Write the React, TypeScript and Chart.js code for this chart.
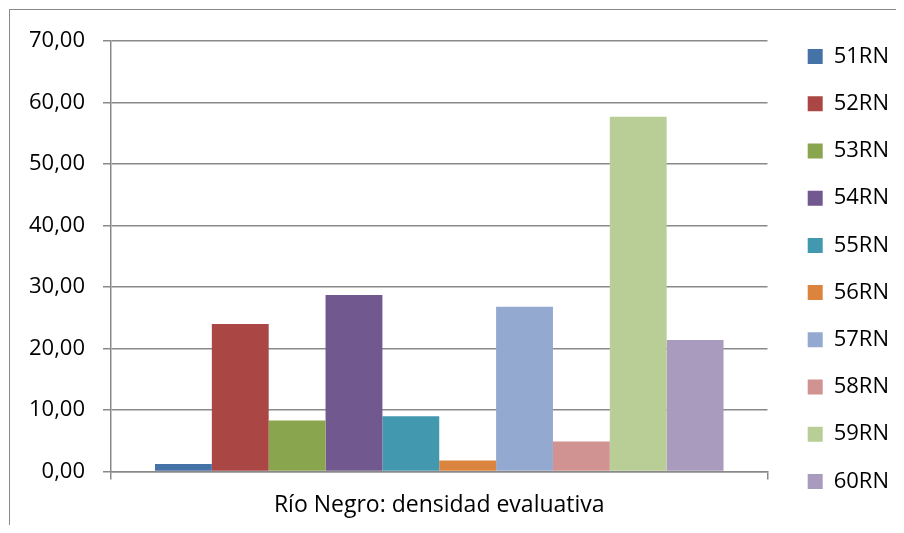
import React, { useEffect, useRef } from 'react';
import { Chart, registerables } from 'chart.js';

Chart.register(...registerables);

const categories = ['Río Negro: densidad evaluativa'];
const seriesNames = ['51RN', '52RN', '53RN', '54RN', '55RN', '56RN', '57RN', '58RN', '59RN', '60RN'];
const seriesValues = [1.2, 24.0, 8.3, 28.7, 9.0, 1.8, 26.8, 4.9, 57.7, 21.4];
const seriesColors = ['#4572A7', '#AA4643', '#89A54E', '#71588F', '#4198AF', '#DB843D', '#93A9CF', '#D19392', '#B9CD96', '#A99BBD'];
const yTickLabels = ['0,00', '10,00', '20,00', '30,00', '40,00', '50,00', '60,00', '70,00'];

const GRID = '#898989';
const FONT = 'Open Sans';

export default function App() {
  const ref = useRef<HTMLCanvasElement | null>(null);

  useEffect(() => {
    if (!ref.current) return;
    const chart = new Chart(ref.current, {
      type: 'bar',
      data: {
        labels: categories,
        datasets: seriesNames.map((name, i) => ({
          label: name,
          data: [seriesValues[i]],
          backgroundColor: seriesColors[i],
          borderWidth: 0,
          barPercentage: 1,
          categoryPercentage: 0.866,
        })),
      },
      options: {
        animation: false,
        responsive: true,
        maintainAspectRatio: false,
        color: '#000',
        font: { family: FONT, size: 22 },
        layout: { padding: { top: 3, bottom: 0, left: 0, right: 5 } },
        plugins: {
          tooltip: { enabled: false },
          title: {
            display: true,
            text: '',
            font: { size: 10 },
            padding: { top: 15, bottom: 0 },
          },
          legend: {
            position: 'right',
            align: 'center',
            labels: {
              boxWidth: 15,
              boxHeight: 15,
              padding: 25.2,
              color: '#000',
              font: { family: FONT, size: 22 },
            },
          },
        },
        scales: {
          x: {
            offset: true,
            grid: {
              display: true,
              offset: true,
              drawOnChartArea: false,
              drawTicks: true,
              tickLength: 8,
              color: GRID,
              lineWidth: 1.5,
            },
            border: { display: true, color: GRID, width: 1.5 },
            ticks: {
              color: '#000',
              padding: 12,
              maxRotation: 0,
              autoSkip: false,
              font: { family: FONT, size: 23 },
            },
            afterFit: (s: any) => { s.height = 53.5; },
          },
          y: {
            min: 0,
            max: 70,
            ticks: {
              stepSize: 10,
              color: '#000',
              padding: 18,
              font: { family: FONT, size: 22 },
              callback: (_v: any, idx: number) => yTickLabels[idx],
            },
            grid: { color: GRID, lineWidth: 1.5, tickLength: 8, drawTicks: true },
            border: { display: true, color: GRID, width: 1.5 },
            afterFit: (s: any) => { s.width = 101; },
          },
          yRight: {
            type: 'linear',
            position: 'right',
            display: true,
            grid: { display: false },
            border: { display: false },
            ticks: { display: false },
            afterFit: (s: any) => { s.width = 15; },
          },
        },
      },
    } as any);
    return () => chart.destroy();
  }, []);

  return (
    <div
      style={{
        marginLeft: 1,
        marginTop: 1,
        width: 894,
        height: 515,
        borderLeft: `1px solid ${GRID}`,
        borderTop: `1px solid ${GRID}`,
        position: 'relative',
        background: '#fff',
      }}
    >
      <canvas ref={ref} />
    </div>
  );
}
